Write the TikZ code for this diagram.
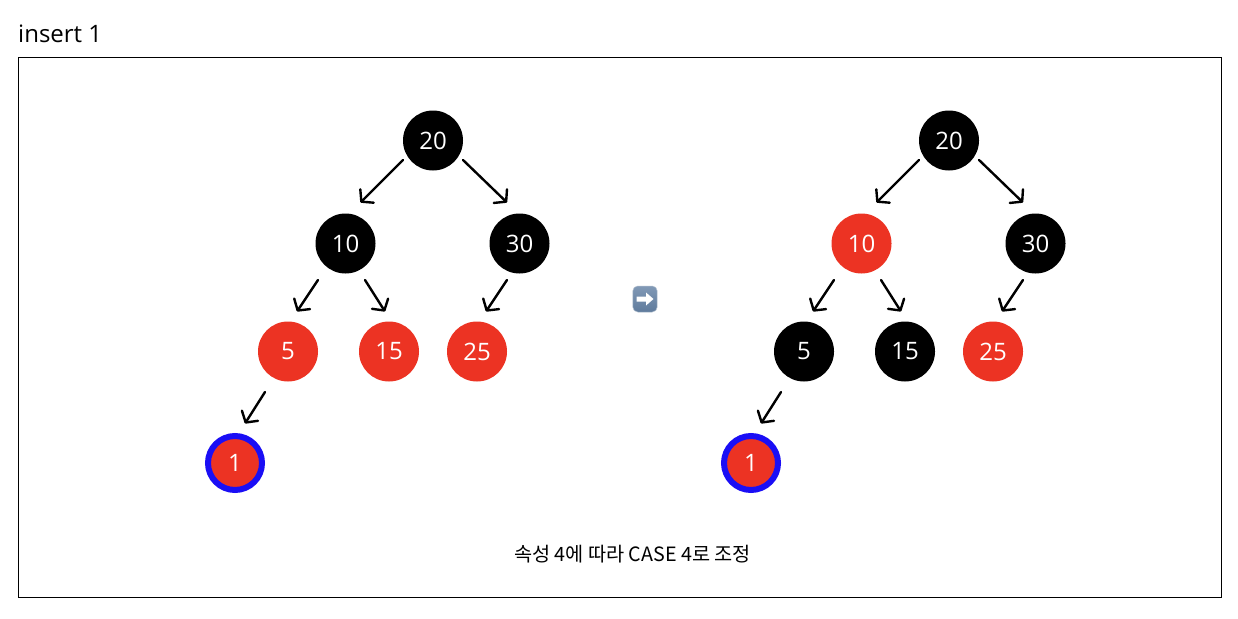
\documentclass[tikz,border=0pt]{standalone}
\usepackage{fontspec}
\setmainfont{Open Sans}
\newfontfamily\cjk{Noto Sans CJK KR}
\usetikzlibrary{arrows.meta,calc,shadings}
\definecolor{rbred}{HTML}{EC3323}
\definecolor{rbblue}{HTML}{1A0EF5}
\definecolor{emotop}{HTML}{8199B6}
\definecolor{emobot}{HTML}{5F7B9C}
\tikzset{
  tn/.style={circle,inner sep=0pt,minimum size=60pt,text=white,font=\fontsize{24}{24}\selectfont},
  blk/.style={tn,fill=black},
  rd/.style={tn,fill=rbred},
  ins/.style={tn,fill=rbred,draw=rbblue,line width=6pt,minimum size=54pt},
  conn/.style={draw=black,line width=2.4pt,line cap=round,-{Straight Barb[length=8pt,width=19pt,line width=2.4pt,round]}},
  frame/.style={draw=black,line width=1pt,fill=white},
}
\newcommand{\cn}[4]{\draw[conn] ($(#1)+(#2)$) -- ($(#3)+(#4)$);}
\newcommand{\onetree}[6]{%
  \node[#2] (#1a) at (#3+433,140.5) {20};
  \node[#4] (#1b) at (#3+345.5,243.5) {10};
  \node[blk] (#1c) at (#3+519.5,243.5) {30};
  \node[#5] (#1d) at (#3+288,351.5) {5};
  \node[#6] (#1e) at (#3+389,351.5) {15};
  \node[rd] (#1f) at (#3+477,351.5) {25};
  \node[ins] (#1g) at (#3+235,463) {1};
  \cn{#1a}{-30,19.5}{#1b}{15,-41}
  \cn{#1a}{30,19.5}{#1c}{-12.5,-41}
  \cn{#1b}{-27.5,36.5}{#1d}{9,-40}
  \cn{#1b}{19.5,36.5}{#1e}{-4,-40}
  \cn{#1c}{-12.5,36.5}{#1f}{9,-40}
  \cn{#1d}{-23,40.5}{#1g}{10,-39.5}
}
\begin{document}
\begin{tikzpicture}[x=1pt,y=-1pt]
\useasboundingbox (0,0) rectangle (1238,618);
\node[anchor=base west,inner sep=0pt,font=\fontsize{24}{24}\selectfont] (title) at (18,42.5) {insert 1};
\node[frame,anchor=north west,inner sep=0pt,minimum width=1203pt,minimum height=539pt] (box) at (18,57.5) {};
\onetree{l}{blk}{0}{blk}{rd}{rd}
\onetree{r}{blk}{516}{rd}{blk}{blk}
\node[inner sep=0pt,font=\fontsize{19.7}{20}\selectfont] (cap) at (632.5,554.5) {\cjk 속성 4에 따라 CASE 4로 조정};
% arrow emoji
\shade[top color=emotop,bottom color=emobot,rounded corners=5pt,draw=emobot!50!white,line width=0.5pt] (632.8,286) rectangle (657.2,312);
\fill[white] (636.7,296.7) -- (646,296.7) -- (646,292.5) -- (653.5,299) -- (646,305.5) -- (646,301.7) -- (636.7,301.7) -- cycle;
\end{tikzpicture}
\end{document}
